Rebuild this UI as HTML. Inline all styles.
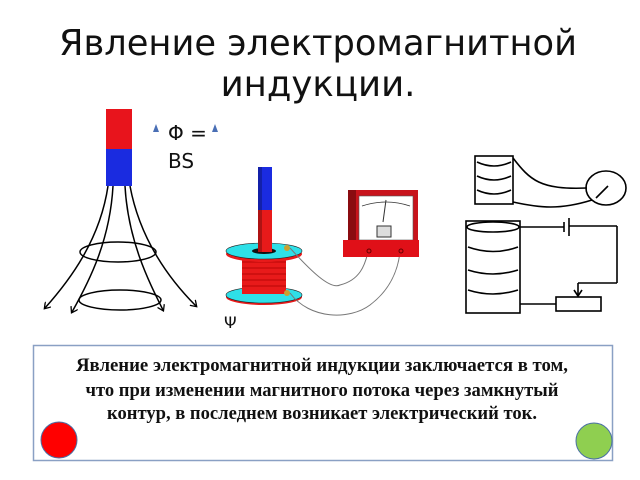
<!DOCTYPE html>
<html><head><meta charset="utf-8"><style>
html,body{margin:0;padding:0;background:#fff;width:640px;height:480px;overflow:hidden}
</style></head><body>
<svg width="640" height="480" viewBox="0 0 640 480" xmlns="http://www.w3.org/2000/svg">
<defs>
<marker id="ar" markerWidth="8" markerHeight="8" refX="5" refY="4" orient="auto" markerUnits="userSpaceOnUse"><path d="M0,0 L6,4 L0,8" fill="none" stroke="#000" stroke-width="1.3"/></marker>
</defs>
<text x="318" y="55" font-family="DejaVu Sans, sans-serif" font-size="35.5" text-anchor="middle" fill="#111" textLength="518" lengthAdjust="spacingAndGlyphs">Явление электромагнитной</text>
<text x="318" y="96" font-family="DejaVu Sans, sans-serif" font-size="35.5" text-anchor="middle" fill="#111">индукции.</text>

<!-- magnet 1 -->
<rect x="106" y="109" width="26" height="40" fill="#e8141c"/>
<rect x="106" y="149" width="26" height="37" fill="#1a2be0"/>
<g fill="none" stroke="#000" stroke-width="1.5">
<path d="M108,186 C100,240 70,280 45,308" marker-end="url(#ar)"/>
<path d="M113,186 C110,240 90,280 72,312" marker-end="url(#ar)"/>
<path d="M125,186 C128,240 148,280 163,310" marker-end="url(#ar)"/>
<path d="M130,186 C140,240 170,280 196,306" marker-end="url(#ar)"/>
<ellipse cx="118" cy="252" rx="38" ry="10"/>
<ellipse cx="120" cy="300" rx="41" ry="10"/>
</g>
<polygon points="153,132 156,124 159,132" fill="#4a6fb5"/>
<polygon points="212,132 215,124 218,132" fill="#4a6fb5"/>
<text x="168" y="140" font-family="DejaVu Sans, sans-serif" font-size="20" fill="#111">Φ =</text>
<text x="168" y="168" font-family="DejaVu Sans, sans-serif" font-size="20" fill="#111">BS</text>

<!-- coil -->
<ellipse cx="264" cy="297" rx="38" ry="8" fill="#e81a1a"/>
<ellipse cx="264" cy="295" rx="38" ry="8" fill="#2ee0e8" stroke="#222" stroke-width="0.6"/>
<rect x="242" y="252" width="44" height="42" fill="#e81a1a"/>
<g stroke="#a00" stroke-width="0.8">
<line x1="242" y1="262" x2="286" y2="262"/><line x1="242" y1="268" x2="286" y2="268"/><line x1="242" y1="274" x2="286" y2="274"/><line x1="242" y1="280" x2="286" y2="280"/><line x1="242" y1="286" x2="286" y2="286"/>
</g>
<ellipse cx="264" cy="254" rx="38" ry="8" fill="#e81a1a"/>
<ellipse cx="264" cy="251" rx="38" ry="8" fill="#2ee0e8" stroke="#222" stroke-width="0.6"/>
<ellipse cx="264" cy="251" rx="12" ry="3" fill="#111"/>
<rect x="258" y="167" width="14" height="43" fill="#1a2be0"/>
<rect x="258" y="210" width="14" height="42" fill="#e81a1a"/>
<rect x="258" y="167" width="4" height="85" fill="#000" opacity="0.25"/>
<circle cx="287" cy="248" r="3" fill="#c8a030"/>
<circle cx="287" cy="293" r="3" fill="#c8a030"/>
<text x="224" y="328" font-family="DejaVu Sans, sans-serif" font-size="16" fill="#111">Ψ</text>

<!-- wires -->
<g fill="none" stroke="#777" stroke-width="1">
<path d="M290,248 C310,270 330,290 340,285 C360,280 365,265 368,252"/>
<path d="M290,293 C310,320 350,320 370,305 C390,290 398,270 400,252"/>
</g>
<!-- galvanometer -->
<rect x="348" y="190" width="70" height="52" fill="#c8141c"/>
<rect x="348" y="190" width="8" height="52" fill="#8a0c10"/>
<rect x="359" y="196" width="54" height="44" fill="#fff" stroke="#555" stroke-width="0.6"/>
<path d="M362,206 Q386,198 410,206" fill="none" stroke="#333" stroke-width="0.8"/>
<line x1="386" y1="200" x2="383" y2="222" stroke="#333"/>
<rect x="377" y="226" width="14" height="11" fill="#ddd" stroke="#333"/>
<rect x="343" y="240" width="76" height="17" fill="#e01018"/>
<circle cx="369" cy="251" r="2" fill="none" stroke="#600"/>
<circle cx="401" cy="251" r="2" fill="none" stroke="#600"/>

<!-- right circuit -->
<g fill="none" stroke="#000" stroke-width="1.6">
<rect x="475" y="156" width="38" height="48"/>
<path d="M477,162 Q494,170 511,162 M477,176 Q494,184 511,176 M477,190 Q494,198 511,190"/>
<path d="M513,158 C530,180 540,190 587,188"/>
<path d="M513,202 C540,208 560,210 592,200"/>
<ellipse cx="606" cy="188" rx="20" ry="17"/>
<line x1="596" y1="198" x2="608" y2="186"/>
<rect x="466" y="221" width="54" height="92"/>
<ellipse cx="493" cy="227" rx="26" ry="5"/>
<path d="M468,247 Q493,256 518,247 M468,270 Q493,278 518,270 M468,290 Q493,298 518,290"/>
<line x1="520" y1="227" x2="564" y2="227"/>
<line x1="564" y1="222" x2="564" y2="232"/>
<line x1="569" y1="218" x2="569" y2="236"/>
<line x1="569" y1="226" x2="617" y2="226"/>
<line x1="617" y1="226" x2="617" y2="283"/>
<line x1="617" y1="283" x2="578" y2="283"/>
<line x1="578" y1="283" x2="578" y2="296"/>
<path d="M574,290 L578,296 L582,290"/>
<rect x="556" y="297" width="45" height="14"/>
<line x1="520" y1="304" x2="556" y2="304"/>
</g>

<!-- text box -->
<rect x="33.5" y="345.5" width="579" height="115" fill="#fff" stroke="#8aa0c4" stroke-width="1.5"/>
<g font-family="Liberation Serif, serif" font-weight="bold" font-size="19" text-anchor="middle" fill="#111">
<text x="322" y="371" textLength="492" lengthAdjust="spacingAndGlyphs">Явление электромагнитной индукции заключается  в том,</text>
<text x="322" y="396" textLength="473" lengthAdjust="spacingAndGlyphs">что при изменении магнитного потока через замкнутый</text>
<text x="322" y="419" textLength="430" lengthAdjust="spacingAndGlyphs">контур, в последнем возникает электрический ток.</text>
</g>
<circle cx="59" cy="440" r="18" fill="#f00" stroke="#4a6fa5" stroke-width="1"/>
<circle cx="594" cy="441" r="18" fill="#8fcf50" stroke="#4a6fa5" stroke-width="1"/>
</svg>
</body></html>
